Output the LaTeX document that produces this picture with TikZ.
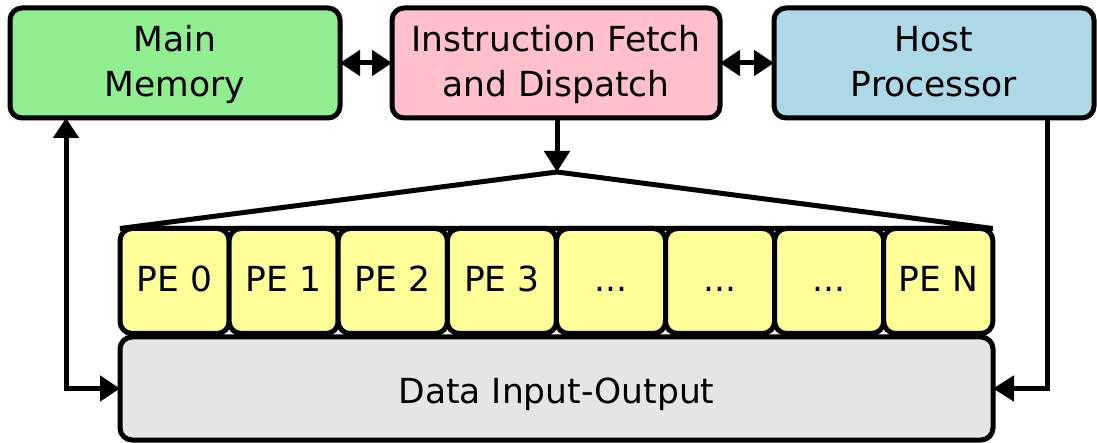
\documentclass[tikz,border=0pt]{standalone}
\usepackage{fontspec}
\setmainfont{DejaVu Sans}
\usetikzlibrary{arrows.meta}
\definecolor{memgreen}{HTML}{90EE90}
\definecolor{ifpink}{HTML}{FFC0CB}
\definecolor{hostblue}{HTML}{ADD8E6}
\definecolor{peyellow}{HTML}{FFFF99}
\definecolor{iogray}{HTML}{E5E5E5}
\begin{document}
\begin{tikzpicture}[x=1pt,y=-1pt,
  box/.style={draw=black, line width=5pt, rounded corners=12pt, inner sep=0pt, outer sep=0pt,
    align=center, font=\fontsize{34.5}{45}\selectfont},
  topbox/.style={box, minimum width=328pt, minimum height=110pt, text height=68pt, text depth=0pt},
  pebox/.style={box, fill=peyellow, minimum width=109.1pt, minimum height=105pt, text height=22pt, text depth=0pt},
  conn/.style={line width=5pt},
  tip/.style={line width=5pt, {Triangle[length=20pt,width=25pt]}-{Triangle[length=20pt,width=25pt]}},
  onetip/.style={line width=5pt, -{Triangle[length=21pt,width=25pt]}}
]
\useasboundingbox (0,0) rectangle (1097,443);
\node[topbox, fill=memgreen, minimum width=330pt] (mm) at (175,63) {Main\\Memory};
\node[topbox, fill=ifpink] (if) at (556,63) {Instruction Fetch\\and Dispatch};
\node[topbox, fill=hostblue, minimum width=320pt] (host) at (934,63) {Host\\Processor};
\node[pebox] (pe0) at (174.55,281) {PE 0};
\node[pebox] (pe1) at (283.65,281) {PE 1};
\node[pebox] (pe2) at (392.75,281) {PE 2};
\node[pebox] (pe3) at (501.85,281) {PE 3};
\node[pebox] (pe4) at (610.95,281) {...};
\node[pebox] (pe5) at (720.05,281) {...};
\node[pebox] (pe6) at (829.15,281) {...};
\node[pebox] (pen) at (938.25,281) {PE N};
\node[box, fill=iogray, minimum width=873pt, minimum height=103pt, text height=29pt, text depth=0pt] (dio) at (556.5,388.5) {Data Input-Output};
\coordinate (apex) at (557,172);
\coordinate (lx) at (66,0);
\coordinate (rx) at (1047,0);
\draw[conn, line join=miter] (pe0.north west) -- (apex) -- (pen.north east) -- cycle;
\draw[tip] (mm.east) -- (if.west);
\draw[tip] (if.east) -- (host.west);
\draw[onetip] (if.south -| apex) -- (apex);
\draw[tip] (mm.south -| lx) |- (dio.west);
\draw[onetip] (host.south -| rx) |- (dio.east);
\end{tikzpicture}
\end{document}
